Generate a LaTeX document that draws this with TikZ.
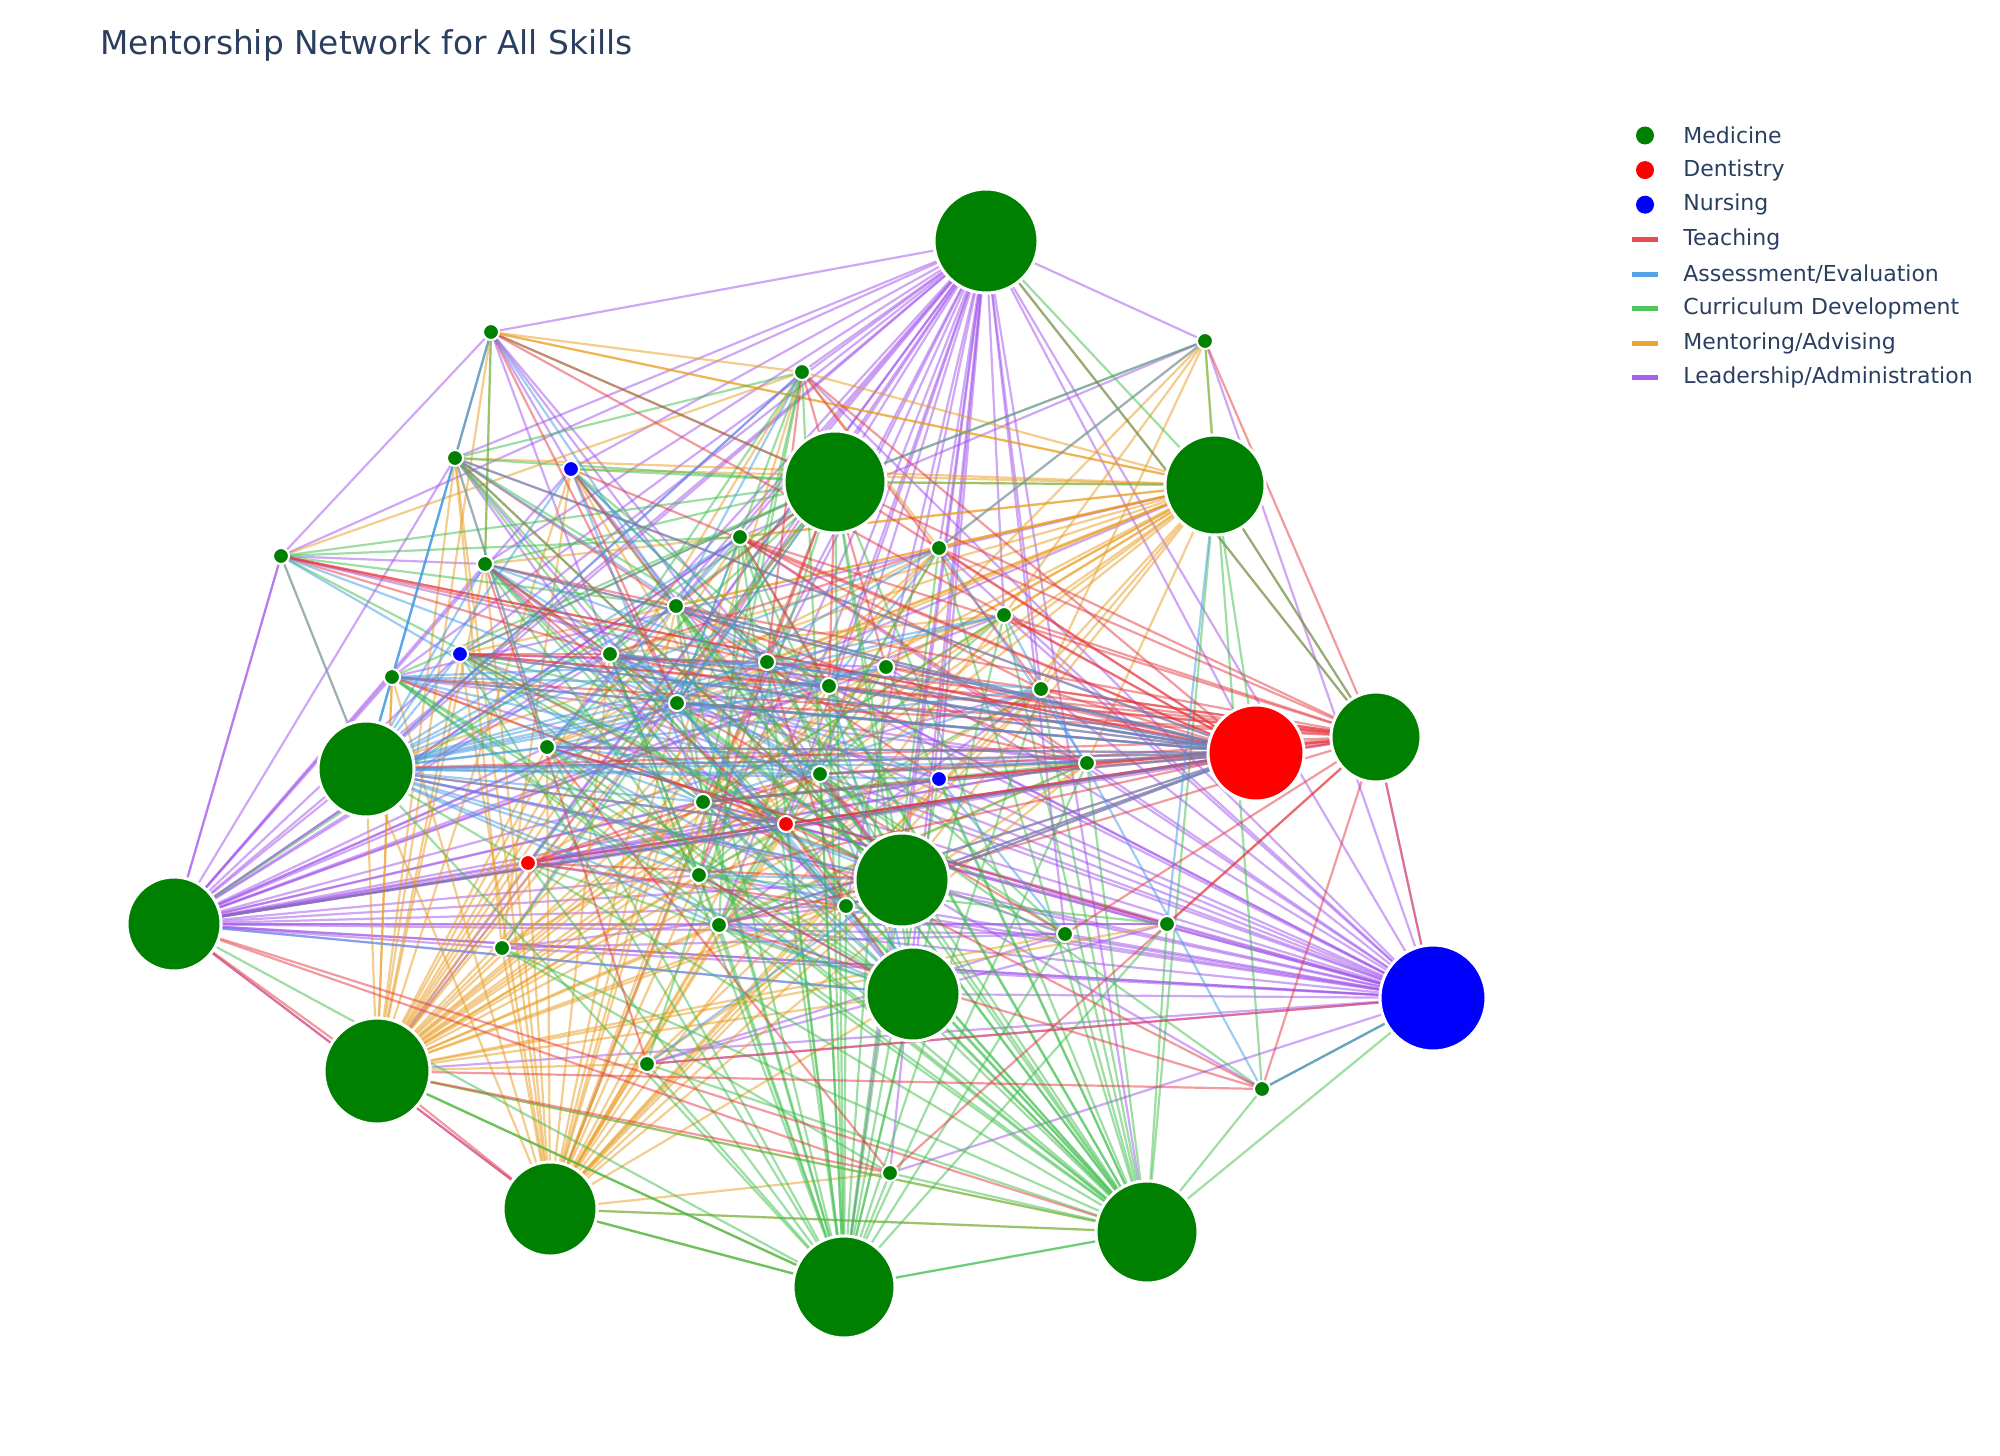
\documentclass[tikz,border=0pt]{standalone}
\usepackage{fontspec}
\setmainfont{DejaVu Sans}
\pgfdeclarelayer{background}
\pgfsetlayers{background,main}
\definecolor{cMed}{RGB}{0,128,0}
\definecolor{cDen}{RGB}{255,0,0}
\definecolor{cNur}{RGB}{0,0,255}
\definecolor{cTeach}{RGB}{228,56,64}
\definecolor{cAss}{RGB}{66,153,225}
\definecolor{cCur}{RGB}{62,190,75}
\definecolor{cMen}{RGB}{232,155,30}
\definecolor{cLead}{RGB}{160,80,235}
\definecolor{cText}{RGB}{42,63,95}
\tikzset{
  edge/.style={line width=1.1pt, opacity=0.5},
  teach/.style={edge, draw=cTeach},
  ass/.style={edge, draw=cAss},
  cur/.style={edge, draw=cCur},
  men/.style={edge, draw=cMen},
  lead/.style={edge, draw=cLead},
  big/.style={circle, draw=white, line width=1.5pt, inner sep=0pt},
  sml/.style={circle, draw=white, line width=1pt, inner sep=0pt, minimum size=8pt},
  med/.style={fill=cMed},
  den/.style={fill=cDen},
  nur/.style={fill=cNur},
  legdot/.style={circle, inner sep=0pt, minimum size=9pt},
  legtxt/.style={anchor=west, text=cText, font=\fontsize{11}{13}\selectfont, inner sep=0pt},
  legline/.style={line width=2.5pt, opacity=0.9}
}
\begin{document}
\begin{tikzpicture}[x=0.5pt,y=-0.5pt]
\useasboundingbox (0,0) rectangle (2000,1455);
% big nodes
\node[big,med,minimum size=52pt] (A) at (986,241) {};
\node[big,med,minimum size=51pt] (B) at (835,482) {};
\node[big,med,minimum size=50pt] (C) at (1215,485) {};
\node[big,den,minimum size=48pt] (D) at (1256,753) {};
\node[big,med,minimum size=45pt] (E) at (1376,737) {};
\node[big,med,minimum size=48pt] (F) at (366,769) {};
\node[big,med,minimum size=47pt] (G) at (174,924) {};
\node[big,med,minimum size=47pt] (H) at (902,880) {};
\node[big,med,minimum size=47pt] (I) at (913,994) {};
\node[big,nur,minimum size=53pt] (J) at (1433,998) {};
\node[big,med,minimum size=53pt] (K) at (377,1071) {};
\node[big,med,minimum size=47pt] (L) at (550,1209) {};
\node[big,med,minimum size=51pt] (M) at (844,1287) {};
\node[big,med,minimum size=51pt] (N) at (1147,1232) {};
% small nodes
\node[sml,med] (s1) at (491,332) {};
\node[sml,med] (s2) at (1205,341) {};
\node[sml,med] (s3) at (802,372) {};
\node[sml,med] (s4) at (455,458) {};
\node[sml,nur] (s5) at (571,469) {};
\node[sml,med] (s6) at (281,556) {};
\node[sml,med] (s7) at (740,537) {};
\node[sml,med] (s8) at (485,564) {};
\node[sml,med] (s9) at (939,548) {};
\node[sml,med] (s10) at (676,606) {};
\node[sml,med] (s11) at (1004,615) {};
\node[sml,nur] (s12) at (460,654) {};
\node[sml,med] (s13) at (610,654) {};
\node[sml,med] (s14) at (767,662) {};
\node[sml,med] (s15) at (886,667) {};
\node[sml,med] (s16) at (392,677) {};
\node[sml,med] (s17) at (829,686) {};
\node[sml,med] (s18) at (1041,689) {};
\node[sml,med] (s19) at (677,703) {};
\node[sml,med] (s20) at (547,747) {};
\node[sml,med] (s21) at (1087,763) {};
\node[sml,med] (s22) at (820,774) {};
\node[sml,nur] (s23) at (939,779) {};
\node[sml,med] (s24) at (703,802) {};
\node[sml,den] (s25) at (786,824) {};
\node[sml,den] (s26) at (528,863) {};
\node[sml,med] (s27) at (699,875) {};
\node[sml,med] (s28) at (846,906) {};
\node[sml,med] (s29) at (719,925) {};
\node[sml,med] (s30) at (1167,924) {};
\node[sml,med] (s31) at (1065,934) {};
\node[sml,med] (s32) at (502,948) {};
\node[sml,med] (s33) at (647,1064) {};
\node[sml,med] (s34) at (1262,1089) {};
\node[sml,med] (s35) at (890,1173) {};
\begin{pgfonlayer}{background}
% leadership
\foreach \t in {s1,s3,s4,s5,s6,s7,s8,s10,s12,s13,s14,s16,s17,s19,s20,s24,s25,s26,s27,s29,s32,F,G,B,H,I,M,N,J,D,s9,s11,s15,s18,s22,s23,s28,s31,s35,s2,K}
  \draw[lead] (A) -- (\t);
\foreach \t in {s6,s16,s12,s8,s4,F,s20,s13,s10,s26,s19,s24,s25,s22,s17,s27,s28,s29,H,I,D,s21,s23,s31,s30,J,s15,s14,s32,L,s5,s7,s11,s18,E}
  \draw[lead] (G) -- (\t);
\foreach \t in {H,I,s28,s29,s27,s24,s19,s25,s22,s23,s31,s30,s21,s18,s15,s17,s32,K,F,s20,s13,s10,s14,s3,s9,s11,s2,E,s33,s35,s34,s26,s12,s16,G,s7}
  \draw[lead] (J) -- (\t);
\foreach \a/\b in {s1/s6,s6/G,s2/B,s2/s7,s5/H,s4/I,s12/B,s8/H,s1/H,s16/C,B/K,B/L,s7/G,C/G,H/F,s3/F,
  s6/s8,s6/s17,s1/s5,s1/s13,s1/s14,s12/s15,s19/s21,s19/s23,s20/s21,s26/s25,s26/s21,s26/s23,s26/D,s32/s28,s32/s31,s33/s30,s33/s31,s18/s29,s30/s24,s30/s29,s30/s20,s34/H,s4/s24,s8/s28,s16/s21}
  \draw[lead] (\a) -- (\b);
% mentoring
\foreach \t in {s16,s12,s20,s8,s4,s1,s26,s32,s19,s13,s10,s24,s27,s29,s25,s22,s17,s14,s7,B,H,I,s28,s33,C,s3,s5,s15,F,s9,s11,s18,s21,M,N,s23,s31,s30}
  \draw[men] (K) -- (\t);
\foreach \t in {s26,s32,s20,s19,s24,s27,s29,s25,s22,s28,H,I,s17,s14,s10,s13,s12,s16,s33,C,B,s3,s7,s9,s11,s18,s21,M,N,s35,F,s8,s4,s23}
  \draw[men] (L) -- (\t);
\foreach \t in {s1,s4,s5,B,s7,s3,s8,s10,s13,s14,s15,s17,s19,s22,s24,s9,s11,s18,s21,F,H,s25,s26,s2,s12,s20}
  \draw[men] (C) -- (\t);
\foreach \a/\b in {s2/s9,s2/s11,s2/s18,s2/s15,s1/s3,s1/C,s6/F,s4/s32,s3/s9,s16/K,s5/s25,
  s6/s3,s4/s20,s1/s4,s1/s8,s5/s32,s16/s25,s32/s24,s32/s22,s33/s21,s33/s18,s9/s24,s9/s20,s11/s19,s11/s13,s15/s24,s15/s27,s21/s22,s31/s24}
  \draw[men] (\a) -- (\b);
% curriculum
\foreach \t in {H,I,s28,s29,s27,s24,s22,s25,s17,s14,s15,s19,s23,s31,s30,s21,s18,s9,B,s7,s3,s10,s13,F,K,L,N,s35,s33,s11,s20,s26,s12}
  \draw[cur] (M) -- (\t);
\foreach \t in {H,I,s28,s29,s27,s24,s22,s25,s17,s14,s15,s19,s23,s31,s30,s21,s18,s9,B,s7,s10,s13,F,K,L,s35,s33,s11,s32,s20,s34,C,s12,s16,s8,s5}
  \draw[cur] (N) -- (\t);
\foreach \t in {s4,s5,s8,s6,s12,s16,s13,s20,s1,s2,s26,s32,G,s33}
  \draw[cur] (B) -- (\t);
\foreach \a/\b in {s1/s8,s6/s7,s4/s3,s2/s34,s34/J,s6/H,s3/s24,s3/s27,s7/s22,s9/s29,
  s6/s10,s4/s19,s4/s13,s4/s17,s8/s13,s8/s24,s8/s27,s12/s19,s12/s24,s5/s14,s5/s17,s16/s27,s16/s29,s13/s27,s13/s29,s13/s28,s10/s22,s10/s28,s10/s24,s35/s32,s3/s19,s3/s13,s7/s29,s11/s24,s11/s27,s14/s31,s15/s29,s18/s27,s21/s24,s21/s29,s30/s27,s31/s22,s34/s22}
  \draw[cur] (\a) -- (\b);
% teaching
\foreach \t in {F,s16,s12,s13,s10,s19,s20,s24,s14,s17,s22,s25,s26,s27,s28,H,B,s7,s9,s11,s15,s18,s21,s23,s8,s5,G,s29,s4,s1,s6,s3}
  \draw[teach] (D) -- (\t);
\foreach \t in {D,s11,s18,s21,s15,s17,s14,s9,B,s7,s10,s13,s19,s22,s25,H,s23,s30,s31,J,C,A,s2,s35,s34,s24,s12,s16,F}
  \draw[teach] (E) -- (\t);
\foreach \a/\b in {s25/s12,s25/s8,s25/F,s25/s16,s26/H,s26/s24,s6/D,s1/B,G/K,K/L,s4/H,s8/s33,s3/s14,s34/K,s33/J,
  s6/s13,s6/s14,s4/s10,s1/s19,s8/s10,s8/s19,s12/s13,s12/s14,s12/s17,s5/s10,s5/s19,s13/s21,s10/s23,s10/s21,s19/s31,s20/s30,s26/s22,s26/s28,s35/s20,s35/K,s35/G,s3/s15,s3/s18,s7/s17,s7/s18,s7/s21,s9/s13,s14/s27,s14/s28,s34/s29,s34/s24}
  \draw[teach] (\a) -- (\b);
% assessment
\foreach \t in {s4,s12,s16,s8,s6,s10,s13,s14,s17,s19,s20,s22,s24,s25,s15,s18,s21,D,H,I,s23,s28,s1,s5,s9,s11,s3,s7,s29,s27}
  \draw[ass] (F) -- (\t);
\foreach \t in {s16,s12,s13,s20,s19,s14,s17,s24,s22,H,s28,s29,s10,G,s8,s4}
  \draw[ass] (D) -- (\t);
\foreach \a/\b in {I/s28,I/s29,I/s22,I/s17,I/s24,I/s19,s1/s10,s4/s20,s5/s14,s2/s9,s9/s21,C/s30,s11/s34,s34/J,H/s33,B/s19,G/I,s23/s31,
  s6/s19,s6/s24,s1/s16,s4/s14,s8/s17,s8/s22,s5/s24,s16/s14,s16/s17,s16/s22,s13/s22,s13/s23,s19/s28,s20/s22,s20/s28,s20/s31,s3/s10,s7/s19,s7/s20,s9/s19,s9/s17,s11/s14,s15/s20,s18/s24,s18/s13,H/s24,H/s27,I/s27}
  \draw[ass] (\a) -- (\b);
% mixed
\foreach \a/\b in {H/s10,H/s13,H/s19,H/s14,H/s7,B/H,B/I,I/s20,I/s26,I/s16,H/s12,H/s4,A/C,A/E,B/C,C/D,C/E,G/M,K/M,L/M,M/N,N/J,H/I}
  \draw[cur] (\a) -- (\b);
\foreach \a/\b in {H/s25,H/s22,H/s29,I/s27,I/s25,B/s10,B/s14,B/s17,G/L,G/N}
  \draw[teach] (\a) -- (\b);
\end{pgfonlayer}
% title
\node[anchor=west, text=cText, font=\fontsize{16.4}{19}\selectfont, inner sep=0pt] (title) at (100,45) {Mentorship Network for All Skills};
% legend
\node[legdot,fill=cMed] (l1) at (1645,135.5) {};
\node[legtxt] (t1) at (1683,135.5) {Medicine};
\node[legdot,fill=cDen] (l2) at (1645,170.1) {};
\node[legtxt] (t2) at (1683,170.1) {Dentistry};
\node[legdot,fill=cNur] (l3) at (1645,204.7) {};
\node[legtxt] (t3) at (1683,204.7) {Nursing};
\coordinate (a4) at (1632,239.4); \coordinate (b4) at (1658,239.4);
\draw[legline,draw=cTeach] (a4) -- (b4);
\node[legtxt] (t4) at (1683,239.4) {Teaching};
\coordinate (a5) at (1632,274); \coordinate (b5) at (1658,274);
\draw[legline,draw=cAss] (a5) -- (b5);
\node[legtxt] (t5) at (1683,274) {Assessment/Evaluation};
\coordinate (a6) at (1632,308.6); \coordinate (b6) at (1658,308.6);
\draw[legline,draw=cCur] (a6) -- (b6);
\node[legtxt] (t6) at (1683,308.6) {Curriculum Development};
\coordinate (a7) at (1632,343.2); \coordinate (b7) at (1658,343.2);
\draw[legline,draw=cMen] (a7) -- (b7);
\node[legtxt] (t7) at (1683,343.2) {Mentoring/Advising};
\coordinate (a8) at (1632,377.8); \coordinate (b8) at (1658,377.8);
\draw[legline,draw=cLead] (a8) -- (b8);
\node[legtxt] (t8) at (1683,377.8) {Leadership/Administration};
\end{tikzpicture}
\end{document}
